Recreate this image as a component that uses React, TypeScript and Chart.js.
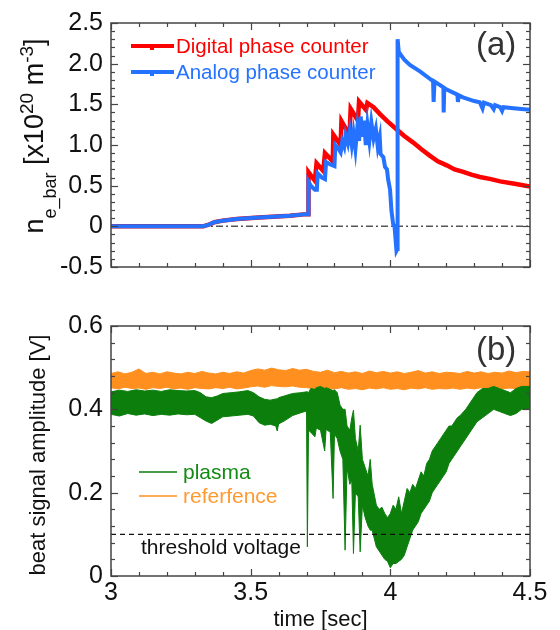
import React, { useEffect, useRef } from 'react';
import { Chart, registerables } from 'chart.js';
Chart.register(...registerables);

const FONT = '"Liberation Sans", Arial, Helvetica, sans-serif';
const AXIS_COLOR = '#444';
const TEXT_COLOR = '#111';
const RED = '#ff0000';
const BLUE = '#2472ff';
const GREEN = '#0b7e0b';
const ORANGE = '#ff8f1f';

// ---------- Panel (a): line-averaged density ----------
const digitalT = [3.000, 3.330, 3.350, 3.370, 3.400, 3.450, 3.530, 3.640, 3.700, 3.706, 3.707, 3.730, 3.736, 3.760, 3.766, 3.794, 3.796, 3.822, 3.825, 3.854, 3.858, 3.884, 3.888, 3.913, 3.918, 3.940, 3.963, 3.990, 4.023, 4.050, 4.082, 4.110, 4.141, 4.170, 4.202, 4.230, 4.261, 4.290, 4.321, 4.360, 4.393, 4.450, 4.500];
const digitalV = [0, 0, 0.02, 0.05, 0.07, 0.09, 0.11, 0.13, 0.15, 0.15, 0.667, 0.56, 0.775, 0.68, 0.90, 0.80, 1.127, 1.00, 1.295, 1.12, 1.446, 1.30, 1.534, 1.43, 1.517, 1.465, 1.38, 1.29, 1.19, 1.11, 1.03, 0.95, 0.87, 0.80, 0.75, 0.70, 0.67, 0.635, 0.607, 0.58, 0.553, 0.52, 0.49];

const analogT = [3.000, 3.330, 3.350, 3.370, 3.400, 3.450, 3.530, 3.640, 3.700, 3.706, 3.707, 3.715, 3.730, 3.737, 3.740, 3.755, 3.766, 3.770, 3.785, 3.800, 3.803, 3.815, 3.822, 3.828, 3.835, 3.840, 3.848, 3.855, 3.862, 3.868, 3.875, 3.882, 3.888, 3.894, 3.900, 3.906, 3.912, 3.918, 3.925, 3.932, 3.940, 3.948, 3.955, 3.962, 3.965, 3.975, 3.981, 3.988, 3.992, 3.999, 4.004, 4.010, 4.015, 4.022, 4.025, 4.026, 4.030, 4.035, 4.050, 4.070, 4.106, 4.153, 4.155, 4.158, 4.190, 4.191, 4.193, 4.200, 4.240, 4.242, 4.245, 4.260, 4.300, 4.320, 4.330, 4.335, 4.360, 4.370, 4.375, 4.393, 4.400, 4.405, 4.450, 4.500];
const analogV = [0, 0, 0.02, 0.05, 0.07, 0.09, 0.11, 0.13, 0.15, 0.15, 0.55, 0.50, 0.45, 0.45, 0.65, 0.60, 0.58, 0.79, 0.76, 0.74, 1.00, 0.95, 0.91, 1.05, 0.98, 1.12, 1.02, 1.18, 1.00, 1.15, 0.95, 1.22, 1.05, 1.35, 1.10, 1.30, 1.00, 1.25, 1.05, 1.28, 1.08, 1.20, 0.98, 1.10, 0.89, 0.85, 0.73, 0.70, 0.58, 0.45, 0.19, 0.03, 0.00, -0.30, -0.28, 2.30, 2.15, 2.12, 2.05, 1.985, 1.905, 1.785, 1.53, 1.78, 1.71, 1.40, 1.70, 1.685, 1.62, 1.53, 1.61, 1.585, 1.54, 1.526, 1.45, 1.52, 1.49, 1.44, 1.49, 1.466, 1.42, 1.465, 1.45, 1.434];

const yTicksA = [-0.5, 0, 0.5, 1.0, 1.5, 2.0, 2.5];

// ---------- Panel (b): beat signal amplitude ----------
const refT = [
  3.000, 3.025, 3.050, 3.075, 3.100, 3.125, 3.150, 3.175, 3.200, 3.225,
  3.250, 3.275, 3.300, 3.325, 3.350, 3.375, 3.400, 3.425, 3.450, 3.475,
  3.500, 3.525, 3.550, 3.575, 3.600, 3.625, 3.650, 3.675, 3.700, 3.725,
  3.750, 3.775, 3.800, 3.825, 3.850, 3.875, 3.900, 3.925, 3.950, 3.975,
  4.000, 4.025, 4.050, 4.075, 4.100, 4.125, 4.150, 4.175, 4.200, 4.225,
  4.250, 4.275, 4.300, 4.325, 4.350, 4.375, 4.400, 4.425, 4.450, 4.475,
  4.500];
const refHi = [
  0.486, 0.490, 0.485, 0.489, 0.497, 0.486, 0.489, 0.485, 0.490, 0.487,
  0.485, 0.489, 0.486, 0.491, 0.487, 0.485, 0.489, 0.486, 0.490, 0.487,
  0.493, 0.497, 0.494, 0.499, 0.495, 0.493, 0.498, 0.494, 0.496, 0.491,
  0.489, 0.494, 0.488, 0.491, 0.487, 0.490, 0.486, 0.492, 0.488, 0.491,
  0.487, 0.490, 0.486, 0.489, 0.493, 0.487, 0.490, 0.486, 0.489, 0.488,
  0.486, 0.491, 0.487, 0.490, 0.486, 0.489, 0.487, 0.492, 0.488, 0.491,
  0.490];
const refLo = [
  0.452, 0.449, 0.453, 0.450, 0.451, 0.448, 0.452, 0.450, 0.453, 0.449,
  0.451, 0.448, 0.452, 0.450, 0.449, 0.452, 0.450, 0.453, 0.449, 0.451,
  0.454, 0.456, 0.453, 0.457, 0.455, 0.454, 0.456, 0.453, 0.452, 0.450,
  0.448, 0.451, 0.449, 0.452, 0.448, 0.450, 0.447, 0.451, 0.449, 0.452,
  0.448, 0.450, 0.447, 0.451, 0.449, 0.452, 0.448, 0.450, 0.449, 0.451,
  0.448, 0.451, 0.449, 0.452, 0.448, 0.450, 0.449, 0.451, 0.450, 0.448,
  0.450];

const plasmaT = [
  3.000, 3.030, 3.060, 3.090, 3.120, 3.150, 3.180, 3.210, 3.240, 3.270,
  3.300, 3.320, 3.340, 3.360, 3.380, 3.400, 3.430, 3.460, 3.490, 3.510,
  3.530, 3.550, 3.570, 3.590, 3.595, 3.600, 3.620, 3.650, 3.680, 3.700,
  3.703, 3.707, 3.715, 3.730, 3.735, 3.750, 3.765, 3.770, 3.785, 3.795,
  3.800, 3.810, 3.820, 3.830, 3.838, 3.845, 3.855, 3.862, 3.868, 3.875,
  3.885, 3.892, 3.900, 3.910, 3.920, 3.928, 3.935, 3.950, 3.960, 3.970,
  3.980, 3.990, 4.000, 4.010, 4.020, 4.030, 4.040, 4.050, 4.060, 4.070,
  4.080, 4.090, 4.100, 4.110, 4.120, 4.130, 4.140, 4.150, 4.160, 4.170,
  4.180, 4.190, 4.200, 4.210, 4.220, 4.230, 4.240, 4.250, 4.270, 4.290,
  4.310, 4.330, 4.350, 4.370, 4.390, 4.410, 4.430, 4.450, 4.470, 4.500];
const plasmaHi = [
  0.442, 0.446, 0.443, 0.447, 0.444, 0.446, 0.443, 0.447, 0.445, 0.444,
  0.445, 0.440, 0.430, 0.428, 0.432, 0.438, 0.440, 0.442, 0.445, 0.440,
  0.430, 0.424, 0.422, 0.425, 0.425, 0.428, 0.432, 0.438, 0.440, 0.442,
  0.442, 0.440, 0.450, 0.448, 0.452, 0.455, 0.450, 0.452, 0.448, 0.445,
  0.447, 0.440, 0.410, 0.400, 0.400, 0.360, 0.350, 0.380, 0.398, 0.330,
  0.300, 0.362, 0.280, 0.260, 0.240, 0.280, 0.220, 0.170, 0.160, 0.165,
  0.150, 0.140, 0.150, 0.170, 0.160, 0.190, 0.150, 0.180, 0.210, 0.200,
  0.220, 0.210, 0.230, 0.250, 0.240, 0.270, 0.280, 0.300, 0.310, 0.320,
  0.330, 0.340, 0.350, 0.360, 0.360, 0.370, 0.380, 0.385, 0.400, 0.420,
  0.440, 0.450, 0.450, 0.455, 0.450, 0.445, 0.440, 0.450, 0.455, 0.455];
const plasmaLo = [
  0.388, 0.384, 0.390, 0.386, 0.389, 0.385, 0.388, 0.386, 0.389, 0.387,
  0.388, 0.380, 0.372, 0.366, 0.374, 0.382, 0.384, 0.386, 0.388, 0.384,
  0.368, 0.362, 0.364, 0.360, 0.348, 0.365, 0.372, 0.385, 0.392, 0.396,
  0.070, 0.350, 0.345, 0.334, 0.355, 0.350, 0.300, 0.352, 0.345, 0.186,
  0.340, 0.330, 0.300, 0.280, 0.062, 0.260, 0.220, 0.230, 0.054, 0.200,
  0.190, 0.058, 0.170, 0.140, 0.120, 0.110, 0.110, 0.070, 0.060, 0.050,
  0.040, 0.035, 0.020, 0.030, 0.030, 0.035, 0.040, 0.050, 0.070, 0.090,
  0.110, 0.120, 0.130, 0.150, 0.160, 0.170, 0.180, 0.200, 0.210, 0.220,
  0.230, 0.240, 0.250, 0.270, 0.280, 0.290, 0.300, 0.310, 0.330, 0.350,
  0.370, 0.380, 0.390, 0.400, 0.395, 0.390, 0.385, 0.390, 0.400, 0.400];

const thresholdV = 0.1;
const yTicksB = [0, 0.2, 0.4, 0.6];
const xTickValues = [3, 3.5, 4, 4.5];
const X_MIN = 3;
const X_MAX = 4.5;

const toXY = (ts: number[], vs: number[]) => ts.map((t, i) => ({ x: t, y: vs[i] }));
const yLabel = (v: any) => (Number(v) === 0 ? '0' : Number(v).toFixed(1));

function line(ctx: CanvasRenderingContext2D, x1: number, y1: number, x2: number, y2: number) {
  ctx.beginPath();
  ctx.moveTo(x1, y1);
  ctx.lineTo(x2, y2);
  ctx.stroke();
}

function drawFrameTicks(chart: any, yStart: number, yStep: number, yCount: number) {
  const { ctx, chartArea: a, scales } = chart;
  const xs = scales.x;
  const ys = scales.y;
  ctx.save();
  ctx.strokeStyle = AXIS_COLOR;
  ctx.lineWidth = 1.2;
  for (let i = 0; i <= 15; i++) {
    const px = Math.round(xs.getPixelForValue(X_MIN + i * 0.1)) + 0.5;
    const len = i % 5 === 0 ? 7 : 4;
    line(ctx, px, a.bottom, px, a.bottom - len);
    line(ctx, px, a.top, px, a.top + len);
  }
  for (let j = 0; j <= yCount; j++) {
    const py = Math.round(ys.getPixelForValue(yStart + j * yStep)) + 0.5;
    const len = j % 5 === 0 ? 7 : 4;
    line(ctx, a.left, py, a.left + len, py);
    line(ctx, a.right, py, a.right - len, py);
  }
  ctx.lineWidth = 1.5;
  ctx.strokeRect(a.left, a.top, a.right - a.left, a.bottom - a.top);
  ctx.restore();
}

type Seg = { text: string; size: number; dy: number };
function drawRotatedRich(ctx: CanvasRenderingContext2D, segs: Seg[], baseX: number, centerY: number) {
  let total = 0;
  const widths = segs.map((s) => {
    ctx.font = `${s.size}px ${FONT}`;
    const w = ctx.measureText(s.text).width;
    total += w;
    return w;
  });
  ctx.save();
  ctx.translate(baseX, centerY + total / 2);
  ctx.rotate(-Math.PI / 2);
  ctx.textAlign = 'left';
  ctx.textBaseline = 'alphabetic';
  ctx.fillStyle = TEXT_COLOR;
  let cx = 0;
  segs.forEach((s, i) => {
    ctx.font = `${s.size}px ${FONT}`;
    ctx.fillText(s.text, cx, s.dy);
    cx += widths[i];
  });
  ctx.restore();
}

const panelAPlugin = {
  id: 'panelA',
  afterDraw(chart: any) {
    const ctx: CanvasRenderingContext2D = chart.ctx;
    drawFrameTicks(chart, -0.5, 0.1, 30);
    ctx.save();
    // legend
    const items = [
      { label: 'Digital phase counter', color: RED, y: 46 },
      { label: 'Analog phase counter', color: BLUE, y: 72 },
    ];
    items.forEach((it) => {
      ctx.strokeStyle = it.color;
      ctx.lineWidth = 4;
      line(ctx, 131, it.y, 174, it.y);
      ctx.fillStyle = it.color;
      ctx.fillRect(150, it.y, 4, 4);
      ctx.font = `20.5px ${FONT}`;
      ctx.textAlign = 'left';
      ctx.textBaseline = 'middle';
      ctx.fillText(it.label, 176, it.y + 1);
    });
    ctx.fillStyle = '#333';
    ctx.font = `33px ${FONT}`;
    ctx.textAlign = 'left';
    ctx.textBaseline = 'alphabetic';
    ctx.fillText('(a)', 476, 55);
    ctx.restore();
    drawRotatedRich(
      ctx,
      [
        { text: 'n', size: 27, dy: 0 },
        { text: 'e_bar', size: 18, dy: 13 },
        { text: ' [x10', size: 27, dy: 0 },
        { text: '20', size: 19, dy: -10 },
        { text: ' m', size: 27, dy: 0 },
        { text: '-3', size: 19, dy: -10 },
        { text: ']', size: 27, dy: 0 },
      ],
      43,
      136
    );
  },
};

const panelBPlugin = {
  id: 'panelB',
  afterDraw(chart: any) {
    const ctx: CanvasRenderingContext2D = chart.ctx;
    drawFrameTicks(chart, 0, 0.04, 15);
    ctx.save();
    const items = [
      { label: 'plasma', color: GREEN, text: '#138a13', y: 182 },
      { label: 'referfence', color: ORANGE, text: '#ff9a30', y: 206 },
    ];
    items.forEach((it) => {
      ctx.strokeStyle = it.color;
      ctx.lineWidth = 1.5;
      line(ctx, 139, it.y, 177, it.y);
      ctx.fillStyle = it.text;
      ctx.font = `21px ${FONT}`;
      ctx.textAlign = 'left';
      ctx.textBaseline = 'middle';
      ctx.fillText(it.label, 183, it.y + 1);
    });
    ctx.fillStyle = TEXT_COLOR;
    ctx.font = `21px ${FONT}`;
    ctx.textAlign = 'left';
    ctx.textBaseline = 'middle';
    ctx.fillText('threshold voltage', 141, 258);

    ctx.fillStyle = '#333';
    ctx.font = `33px ${FONT}`;
    ctx.textBaseline = 'alphabetic';
    ctx.fillText('(b)', 476, 70);

    ctx.fillStyle = TEXT_COLOR;
    ctx.font = `22px ${FONT}`;
    ctx.textAlign = 'center';
    ctx.textBaseline = 'middle';
    ctx.fillText('time [sec]', 320.5, 330);

    ctx.translate(45, 165);
    ctx.rotate(-Math.PI / 2);
    ctx.textBaseline = 'alphabetic';
    ctx.fillText('beat signal amplitude [V]', 0, 0);
    ctx.restore();
  },
};

export default function App() {
  const refA = useRef<HTMLCanvasElement>(null);
  const refB = useRef<HTMLCanvasElement>(null);

  useEffect(() => {
    const tickFont = { family: FONT, size: 25 };
    const common = {
      responsive: false,
      animation: false as const,
      devicePixelRatio: 1,
      events: [] as any[],
    };

    const chartA = new Chart(refA.current as HTMLCanvasElement, {
      type: 'line',
      data: {
        datasets: [
          {
            data: toXY(analogT, analogV),
            borderColor: BLUE,
            borderWidth: 4,
            pointRadius: 0,
            tension: 0,
            fill: false,
          },
          {
            data: toXY(digitalT, digitalV),
            borderColor: RED,
            borderWidth: 4.5,
            pointRadius: 0,
            tension: 0,
            fill: false,
          },
          {
            data: [
              { x: X_MIN, y: 0 },
              { x: X_MAX, y: 0 },
            ],
            borderColor: '#555',
            borderWidth: 1.5,
            borderDash: [7, 3, 2, 3],
            pointRadius: 0,
            fill: false,
          },
        ],
      },
      options: {
        ...common,
        layout: { padding: { left: 0, right: 30, top: 19, bottom: 21 } },
        plugins: { legend: { display: false }, tooltip: { enabled: false } },
        scales: {
          x: { type: 'linear', min: X_MIN, max: X_MAX, display: false },
          y: {
            type: 'linear',
            min: -0.5,
            max: 2.5,
            afterBuildTicks: (s: any) => {
              s.ticks = yTicksA.map((v) => ({ value: v }));
            },
            afterFit: (s: any) => {
              s.width = 111;
            },
            grid: { display: false, drawTicks: false },
            border: { display: false },
            ticks: { padding: 8, color: TEXT_COLOR, font: tickFont, callback: yLabel },
          },
        },
      } as any,
      plugins: [panelAPlugin],
    });

    const chartB = new Chart(refB.current as HTMLCanvasElement, {
      type: 'line',
      data: {
        datasets: [
          {
            data: [
              { x: X_MIN, y: thresholdV },
              { x: X_MAX, y: thresholdV },
            ],
            borderColor: '#111',
            borderWidth: 1.2,
            borderDash: [5, 4],
            pointRadius: 0,
            fill: false,
          },
          {
            data: toXY(plasmaT, plasmaHi),
            borderColor: GREEN,
            backgroundColor: GREEN,
            borderWidth: 1,
            pointRadius: 0,
            tension: 0,
            fill: '+1',
          },
          {
            data: toXY(plasmaT, plasmaLo),
            borderColor: GREEN,
            borderWidth: 1,
            pointRadius: 0,
            tension: 0,
            fill: false,
          },
          {
            data: toXY(refT, refHi),
            borderColor: ORANGE,
            backgroundColor: ORANGE,
            borderWidth: 1,
            pointRadius: 0,
            tension: 0,
            fill: '+1',
          },
          {
            data: toXY(refT, refLo),
            borderColor: ORANGE,
            borderWidth: 1,
            pointRadius: 0,
            tension: 0,
            fill: false,
          },
        ],
      },
      options: {
        ...common,
        layout: { padding: { left: 0, right: 30, top: 36, bottom: 0 } },
        plugins: { legend: { display: false }, tooltip: { enabled: false } },
        scales: {
          x: {
            type: 'linear',
            min: X_MIN,
            max: X_MAX,
            afterBuildTicks: (s: any) => {
              s.ticks = xTickValues.map((v) => ({ value: v }));
            },
            afterFit: (s: any) => {
              s.height = 54;
            },
            grid: { display: false, drawTicks: false },
            border: { display: false },
            ticks: {
              padding: 2,
              color: TEXT_COLOR,
              font: tickFont,
              maxRotation: 0,
              autoSkip: false,
              callback: (v: any) => String(Number(v)),
            },
          },
          y: {
            type: 'linear',
            min: 0,
            max: 0.6,
            afterBuildTicks: (s: any) => {
              s.ticks = yTicksB.map((v) => ({ value: v }));
            },
            afterFit: (s: any) => {
              s.width = 111;
            },
            grid: { display: false, drawTicks: false },
            border: { display: false },
            ticks: { padding: 8, color: TEXT_COLOR, font: tickFont, callback: yLabel },
          },
        },
      } as any,
      plugins: [panelBPlugin],
    });

    return () => {
      chartA.destroy();
      chartB.destroy();
    };
  }, []);

  return (
    <div style={{ position: 'absolute', left: 0, top: 0, width: 560, height: 630, background: '#fff' }}>
      <canvas
        ref={refA}
        width={560}
        height={290}
        style={{ position: 'absolute', left: 0, top: 0, width: 560, height: 290 }}
      />
      <canvas
        ref={refB}
        width={560}
        height={340}
        style={{ position: 'absolute', left: 0, top: 290, width: 560, height: 340 }}
      />
    </div>
  );
}
